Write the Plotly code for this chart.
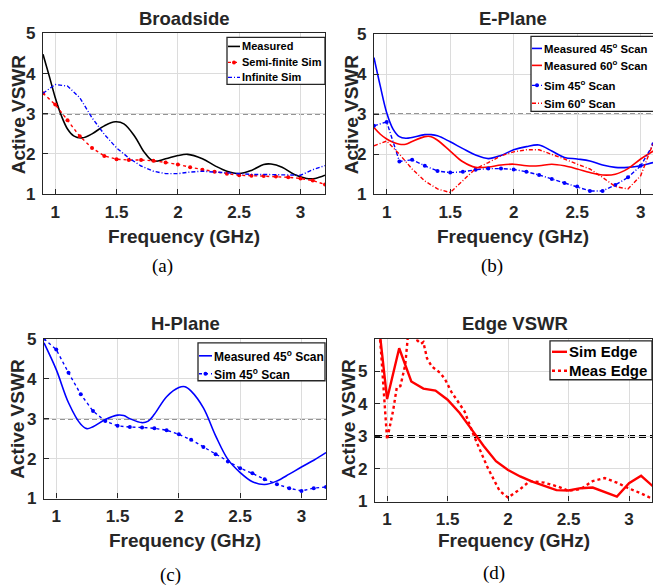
import plotly.graph_objects as go

W, H = 653, 586


def px(x):
    return x / W


def py(y):
    # empirical vertical correction of the rendered page
    yd = (y - 7.5) / 0.9695
    return 1 - yd / H


# ---------------- data ----------------
# (a) Broadside
bs_meas_f = [0.9, 0.95, 1.0, 1.05, 1.1, 1.15, 1.22, 1.3, 1.4, 1.49, 1.56, 1.65, 1.72, 1.8, 1.9, 2.0, 2.08,
             2.2, 2.3, 2.4, 2.5, 2.6, 2.7, 2.76, 2.85, 2.95, 3.05, 3.12, 3.2]
bs_meas_v = [4.48, 3.95, 3.4, 2.95, 2.62, 2.45, 2.40, 2.5, 2.7, 2.80, 2.75, 2.43, 2.07, 1.82, 1.88, 1.96, 1.99,
             1.88, 1.71, 1.57, 1.51, 1.59, 1.74, 1.75, 1.67, 1.49, 1.39, 1.39, 1.47]
sim_f = [0.9, 1.0, 1.1, 1.2, 1.3, 1.4, 1.5, 1.6, 1.7, 1.8, 1.9, 2.0, 2.1, 2.2, 2.3, 2.4, 2.5, 2.6, 2.7, 2.8,
         2.9, 3.0, 3.1, 3.2]
bs_semi_v = [3.51, 3.23, 2.84, 2.44, 2.15, 1.95, 1.87, 1.85, 1.85, 1.83, 1.79, 1.74, 1.67, 1.61, 1.56, 1.51,
             1.47, 1.46, 1.45, 1.44, 1.42, 1.39, 1.34, 1.24]
bs_inf_v = [3.51, 3.73, 3.69, 3.40, 2.90, 2.49, 2.15, 1.90, 1.70, 1.57, 1.51, 1.51, 1.55, 1.57, 1.55, 1.53,
            1.51, 1.49, 1.49, 1.48, 1.47, 1.47, 1.61, 1.71]

# (b) E-Plane
ep_meas_f = [0.9, 0.95, 1.0, 1.05, 1.1, 1.15, 1.2, 1.3, 1.35, 1.4, 1.5, 1.6, 1.7, 1.8, 1.9, 2.0, 2.1, 2.2,
             2.3, 2.4, 2.5, 2.6, 2.7, 2.8, 2.9, 3.0, 3.1, 3.2]
ep_meas45_v = [4.42, 3.7, 3.04, 2.63, 2.44, 2.40, 2.42, 2.49, 2.49, 2.46, 2.31, 2.14, 1.98, 1.89, 1.97, 2.11,
               2.19, 2.23, 2.08, 1.92, 1.88, 1.83, 1.73, 1.67, 1.67, 1.71, 1.79, 1.85]
ep_meas60_v = [2.67, 2.50, 2.38, 2.30, 2.25, 2.25, 2.32, 2.44, 2.44, 2.35, 2.08, 1.81, 1.67, 1.68, 1.73, 1.75,
               1.71, 1.71, 1.75, 1.71, 1.63, 1.54, 1.48, 1.50, 1.64, 1.88, 2.08, 2.30]
ep_sim45_v = [2.71, 2.81, 1.82, 1.86, 1.71, 1.58, 1.54, 1.56, 1.61, 1.64, 1.64, 1.62, 1.56, 1.48, 1.38, 1.28,
              1.19, 1.08, 1.08, 1.23, 1.42, 1.71, 2.25, 2.29]
ep_sim60_v = [2.21, 2.33, 2.00, 1.63, 1.33, 1.13, 1.04, 1.33, 1.64, 1.79, 1.96, 2.06, 2.11, 2.11, 2.00, 1.88,
              1.75, 1.63, 1.42, 1.19, 1.13, 1.46, 2.29, 2.42]

# (c) H-Plane
hp_meas_f = [0.9, 1.0, 1.1, 1.2, 1.25, 1.3, 1.4, 1.5, 1.55, 1.6, 1.7, 1.75, 1.8, 1.9, 2.0, 2.05, 2.1, 2.2,
             2.3, 2.4, 2.5, 2.6, 2.7, 2.8, 2.9, 3.0, 3.1, 3.2]
hp_meas_v = [4.9, 4.23, 3.4, 2.86, 2.75, 2.80, 2.98, 3.09, 3.08, 3.0, 2.9, 2.94, 3.11, 3.55, 3.78, 3.80, 3.69,
             3.27, 2.57, 1.98, 1.65, 1.42, 1.35, 1.44, 1.61, 1.79, 1.96, 2.15]
hp_sim_v = [5.0, 4.73, 4.15, 3.61, 3.19, 2.94, 2.82, 2.79, 2.78, 2.76, 2.71, 2.61, 2.47, 2.29, 2.11, 1.93,
            1.76, 1.63, 1.48, 1.36, 1.26, 1.19, 1.26, 1.29]

# (d) Edge VSWR
edge_sim_f = sim_f
edge_sim_v = [7.5, 4.15, 5.71, 4.69, 4.47, 4.41, 4.13, 3.72, 3.21, 2.70, 2.24, 1.97, 1.77, 1.61, 1.48, 1.35,
              1.34, 1.41, 1.43, 1.30, 1.15, 1.56, 1.79, 1.46]
edge_meas_f = [0.9, 0.95, 1.0, 1.05, 1.08, 1.11, 1.15, 1.17, 1.2, 1.23, 1.25, 1.28, 1.3, 1.33, 1.37, 1.44,
               1.48, 1.53, 1.64, 1.72, 1.83, 1.93, 2.0, 2.1, 2.18, 2.3, 2.42, 2.5, 2.6, 2.7, 2.8, 2.9, 3.0,
               3.1, 3.2]
edge_meas_v = [8.0, 5.6, 2.9, 3.8, 4.5, 4.55, 5.2, 6.0, 6.6, 6.2, 5.95, 5.85, 5.9, 5.4, 5.15, 4.95, 4.75,
               4.38, 3.77, 3.0, 2.05, 1.33, 1.12, 1.38, 1.63, 1.58, 1.45, 1.33, 1.38, 1.63, 1.72, 1.58, 1.40,
               1.25, 1.07]

x_ticks = [1, 1.5, 2, 2.5, 3]
x_tick_text = ["1", "1.5", "2", "2.5", "3"]
y_ticks = [1, 2, 3, 4, 5]

# ---------------- styling ----------------
AX = "#262626"
RED = "#ff0000"
BLUE = "#0000ff"
FONT = "Liberation Sans"
DASHDOT = "4px,2px,1px,2px"

fig = go.Figure()


def add(x, y, ax, color, width=1.6, dash="solid", shape="linear", marker=False):
    fig.add_trace(go.Scatter(
        x=x, y=y, xaxis="x" + ax, yaxis="y" + ax,
        mode="lines+markers" if marker else "lines",
        line=dict(color=color, width=width, dash=dash, shape=shape),
        marker=dict(size=4, color=color),
        showlegend=False, hoverinfo="skip"))


# (a)
add(bs_meas_f, bs_meas_v, "", "black", 1.6, "solid", "spline")
add(sim_f, bs_semi_v, "", RED, 1.4, "dot", marker=True)
add(sim_f, bs_inf_v, "", BLUE, 1.4, DASHDOT)
# (b)
add(ep_meas_f, ep_meas45_v, "2", BLUE, 1.6, "solid", "spline")
add(ep_meas_f, ep_meas60_v, "2", RED, 1.6, "solid", "spline")
add(sim_f, ep_sim45_v, "2", BLUE, 1.4, DASHDOT, marker=True)
add(sim_f, ep_sim60_v, "2", RED, 1.4, DASHDOT)
# (c)
add(hp_meas_f, hp_meas_v, "3", BLUE, 1.6, "solid", "spline")
add(sim_f, hp_sim_v, "3", BLUE, 1.4, "dot", marker=True)
# (d)
add(edge_sim_f, edge_sim_v, "4", RED, 2.4)
add(edge_meas_f, edge_meas_v, "4", RED, 2.4, "dot")

tickfont = dict(family=FONT, size=17, color=AX, weight="bold")


def xax(domain, rng, anchor):
    return dict(domain=domain, range=rng, anchor=anchor, tickvals=x_ticks, ticktext=x_tick_text,
                showline=True, linecolor=AX, linewidth=1.3, mirror=True, ticks="inside", ticklen=5,
                tickcolor=AX, showgrid=True, gridcolor="#dcdcdc", gridwidth=1, zeroline=False,
                tickfont=tickfont, ticklabelstandoff=2)


def yax(domain, rng, anchor, mirror=True):
    return dict(domain=domain, range=rng, anchor=anchor, tickvals=y_ticks,
                showline=True, linecolor=AX, linewidth=1.3, mirror=mirror, ticks="inside", ticklen=5,
                tickcolor=AX, showgrid=True, gridcolor="#dcdcdc", gridwidth=1, zeroline=False,
                tickfont=tickfont, ticklabelstandoff=3)


fig.update_layout(
    width=W, height=H, margin=dict(l=0, r=0, t=0, b=0),
    paper_bgcolor="white", plot_bgcolor="white", showlegend=False,
    xaxis=xax([px(43), px(325)], [0.9, 3.2], "y"),
    yaxis=yax([py(193), py(32)], [1, 5], "x"),
    xaxis2=xax([px(374), 1.0], [0.9, 3.097], "y2"),
    yaxis2=yax([py(193), py(33)], [1, 5], "x2", mirror=False),
    xaxis3=xax([px(44), px(326)], [0.9, 3.2], "y3"),
    yaxis3=yax([py(498), py(338)], [1, 5], "x3"),
    xaxis4=xax([px(375), px(652)], [0.9, 3.19], "y4"),
    yaxis4=yax([py(501), py(338)], [1, 6], "x4"),
)

# 3:1 threshold lines
shapes = []
for ax, w, d, c in [("", 1.4, "5px,3px", "#2a2a2a"), ("2", 1.4, "5px,3px", "#2a2a2a"),
                    ("3", 1.4, "5px,3px", "#2a2a2a"), ("4", 3, "7px,4px", "black")]:
    shapes.append(dict(type="line", xref=("x" + ax + " domain"), yref="y" + ax, x0=0, x1=1, y0=3, y1=3,
                       line=dict(color=c, width=w, dash=d), layer="below"))

annotations = []


def text(x, y, s, size, bold=True, angle=0, family=FONT, xanchor="center", color=AX):
    annotations.append(dict(x=px(x), y=py(y), xref="paper", yref="paper", text=s, showarrow=False,
                            xanchor=xanchor, yanchor="middle", textangle=angle,
                            font=dict(family=family, size=size, color=color,
                                      weight="bold" if bold else "normal")))


# titles
text(184, 17, "Broadside", 18.5)
text(513, 17, "E-Plane", 18.5)
text(185, 323, "H-Plane", 18.5)
text(515, 323, "Edge VSWR", 18.5)
# axis titles
text(184, 235, "Frequency (GHz)", 19)
text(513, 235, "Frequency (GHz)", 19)
text(185, 540, "Frequency (GHz)", 19)
text(514, 540, "Frequency (GHz)", 19)
text(18, 113, "Active VSWR", 19, angle=-90)
text(351, 113, "Active VSWR", 19, angle=-90)
text(18, 418, "Active VSWR", 19, angle=-90)
text(349, 418, "Active VSWR", 19, angle=-90)
# panel letters
text(162, 265, "(a)", 19, bold=False, family="Liberation Serif", color="black")
text(492, 265, "(b)", 19, bold=False, family="Liberation Serif", color="black")
text(170, 575, "(c)", 19, bold=False, family="Liberation Serif", color="black")
text(494, 573, "(d)", 19, bold=False, family="Liberation Serif", color="black")


# manual legends
def legend(box, entries, x_line0, x_line1, size):
    x0, y0, x1, y1 = box
    shapes.append(dict(type="rect", xref="paper", yref="paper", x0=px(x0), x1=px(x1), y0=py(y1), y1=py(y0),
                       line=dict(color=AX, width=1.3), fillcolor="white", layer="above"))
    for (yc, label, color, dash, width, mk) in entries:
        shapes.append(dict(type="line", xref="paper", yref="paper", x0=px(x_line0), x1=px(x_line1),
                           y0=py(yc), y1=py(yc), line=dict(color=color, width=width, dash=dash),
                           layer="above"))
        if mk:
            cx = (x_line0 + x_line1) / 2
            shapes.append(dict(type="circle", xref="paper", yref="paper", x0=px(cx - 2), x1=px(cx + 2),
                               y0=py(yc + 2), y1=py(yc - 2), fillcolor=color, line=dict(width=0),
                               layer="above"))
        text(x_line1, yc, label, size, xanchor="left", color="black")


legend((227, 36, 325, 83),
       [(45, "Measured", "black", "solid", 1.6, False),
        (61, "Semi-finite Sim", RED, "dot", 1.4, True),
        (76, "Infinite Sim", BLUE, DASHDOT, 1.4, False)],
       228, 240, 11)
legend((531, 35, 660, 110),
       [(47, "Measured 45<sup>o</sup> Scan", BLUE, "solid", 1.6, False),
        (64, "Measured 60<sup>o</sup> Scan", RED, "solid", 1.6, False),
        (84, "Sim 45<sup>o</sup> Scan", BLUE, DASHDOT, 1.4, True),
        (102, "Sim 60<sup>o</sup> Scan", RED, DASHDOT, 1.4, False)],
       532, 542, 11.3)
legend((198, 342, 325, 380),
       [(355, "Measured 45<sup>o</sup> Scan", BLUE, "solid", 1.6, False),
        (373, "Sim 45<sup>o</sup> Scan", BLUE, "dot", 1.4, True)],
       199, 212, 12)
legend((550, 340, 652, 379),
       [(351, "Sim Edge", RED, "solid", 2.4, False),
        (370, "Meas Edge", RED, "dot", 2.4, False)],
       552, 567, 15)

fig.update_layout(shapes=shapes, annotations=annotations)
fig.write_html("out.html", config={"displayModeBar": False},
               post_script="document.body.style.margin='0';document.body.style.overflow='hidden';")
